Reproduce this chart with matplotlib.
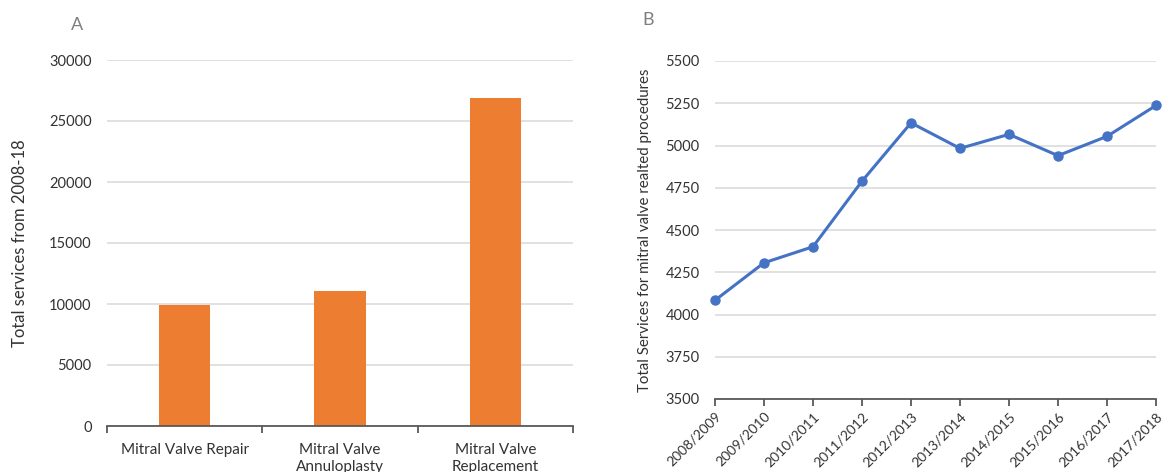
import matplotlib
matplotlib.use("Agg")
import matplotlib.pyplot as plt
import numpy as np

plt.rcParams["font.family"] = ["Lato", "DejaVu Sans"]

# panel A data
procedures = ["Mitral Valve Repair", "Mitral Valve\nAnnuloplasty", "Mitral Valve\nReplacement"]
total_services = [9900, 11080, 26880]

# panel B data
years = ["2008/2009", "2009/2010", "2010/2011", "2011/2012", "2012/2013",
         "2013/2014", "2014/2015", "2015/2016", "2016/2017", "2017/2018"]
services_per_year = [4084, 4306, 4401, 4789, 5134, 4983, 5066, 4940, 5054, 5237]

TXT = "#333333"
GRID = "#D9D9D9"
AXIS = "#595959"

W, H = 1163, 472
fig = plt.figure(figsize=(W / 100, H / 100), dpi=100)
axA = fig.add_axes([107 / W, (H - 426) / H, 466 / W, 366 / H])
axB = fig.add_axes([715 / W, (H - 399) / H, 441 / W, 338 / H])

for ax in (axA, axB):
    for s in ("top", "right", "left"):
        ax.spines[s].set_visible(False)
    ax.spines["bottom"].set_color(AXIS)
    ax.spines["bottom"].set_linewidth(1.3)
    ax.grid(axis="y", color=GRID, linewidth=1.1)
    ax.set_axisbelow(True)
    ax.tick_params(axis="y", length=0, pad=11, labelsize=10.5, labelcolor=TXT)

# ---- A: bars
x = np.arange(len(procedures))
axA.bar(x, total_services, width=0.33, color="#ED7D31", zorder=2)
axA.set_xlim(-0.5, len(procedures) - 0.5)
axA.set_ylim(0, 30000)
axA.set_yticks(np.arange(0, 30001, 5000))
axA.set_xticks(np.arange(-0.5, len(procedures)), labels=[])
axA.set_xticks(x, labels=procedures, minor=True)
axA.tick_params(axis="x", which="major", direction="out", length=5, width=1.3, color=AXIS)
axA.tick_params(axis="x", which="minor", length=0, pad=12, labelsize=11, labelcolor=TXT)
for lbl in axA.get_xticklabels(minor=True):
    lbl.set_linespacing(1.3)
axA.set_ylabel("Total services from 2008-18", fontsize=12, color=TXT, labelpad=15)
fig.text(77 / W, 1 - 25 / H, "A", fontsize=13, color="#7F7F7F", ha="center", va="center")

# ---- B: line
xb = np.arange(len(years))
axB.plot(xb, services_per_year, color="#4472C4", linewidth=2.2, marker="o",
         markersize=6.5, clip_on=False, zorder=3)
axB.set_xlim(0, len(years) - 1)
axB.set_ylim(3500, 5500)
axB.set_yticks(np.arange(3500, 5501, 250))
axB.set_xticks(xb, labels=years, rotation=45, ha="right", rotation_mode="anchor")
axB.tick_params(axis="x", direction="out", length=5, width=1.3, color=AXIS,
                pad=3, labelsize=10, labelcolor=TXT)
axB.set_ylabel("Total Services for mitral valve realted procedures", fontsize=10.8,
               color=TXT, labelpad=10)
fig.text(648 / W, 1 - 20 / H, "B", fontsize=13, color="#7F7F7F", ha="center", va="center")

fig.savefig("out.png", dpi=100)
